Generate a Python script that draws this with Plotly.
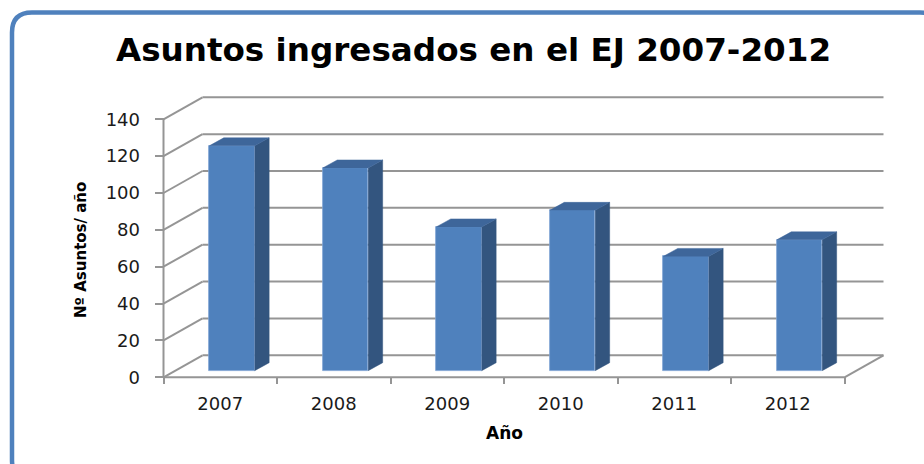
import plotly.graph_objects as go

# ---------------- data ----------------
years = ["2007", "2008", "2009", "2010", "2011", "2012"]
asuntos = [122, 110, 78, 87, 62, 71]
y_ticks = [0, 20, 40, 60, 80, 100, 120, 140]

title_text = "Asuntos ingresados en el EJ 2007-2012"
y_title = "Nº Asuntos/ año"
x_title = "Año"

# ---------------- geometry (pixels -> axis units) ----------------
FIG_W, FIG_H = 924, 464
L, R, T, B = 155, 900, 85, 384          # plot-area box in pixels
W_PX = 113.5                            # px per category
V_PX = 1.843                            # px per value unit
AX_PX, ZERO_PX = 163.5, 377.3           # front axis position / zero line
xmin = -0.5 - (AX_PX - L) / W_PX
xmax = xmin + (R - L) / W_PX
ymin = -(B - ZERO_PX) / V_PX
ymax = ymin + (B - T) / V_PX

DX, DY = 39 / W_PX, 22 / V_PX           # depth of the 3-D box
F = 0.3                                 # depth of the bar front face
BW = 0.40                               # bar width (category units)
BDX, BDY = 14.5 / W_PX, 8 / V_PX        # bar depth

FRONT = "#4F81BD"
SIDE = "#33557F"
TOP = "#3E669A"
GRID = "#959595"

n = len(years)
idx = list(range(n))
x_left, x_right = -0.5, n - 0.5
top_tick = max(y_ticks)

fig = go.Figure()

# ---- walls / gridlines as shapes below traces ----
shapes = []
def seg(x0, y0, x1, y1, w=2, c=GRID):
    shapes.append(dict(type="line", xref="x", yref="y", x0=x0, y0=y0, x1=x1, y1=y1,
                       line=dict(color=c, width=w), layer="below"))

for t in y_ticks:
    seg(x_left + DX, t + DY, x_right + DX, t + DY)   # back wall
    seg(x_left, t, x_left + DX, t + DY)              # side wall
seg(x_left, 0, x_right, 0)                           # floor front edge
seg(x_right, 0, x_right + DX, DY)                    # floor right edge
seg(x_left, 0, x_left, top_tick)                     # value axis line

# ---- bars (front faces) ----
base = F * DY
xc = [i + F * DX for i in idx]
fig.add_trace(go.Bar(x=xc, y=asuntos, base=base, width=BW,
                     marker=dict(color=FRONT, line=dict(color="#7FA3D3", width=0.8)),
                     hoverinfo="skip", showlegend=False))

# ---- side & top faces ----
sx, sy, tx, ty = [], [], [], []
for c, v in zip(xc, asuntos):
    xr = c + BW / 2
    xl = c - BW / 2
    top = base + v
    sx += [xr, xr + BDX, xr + BDX, xr, None]
    sy += [base, base + BDY, top + BDY, top, None]
    tx += [xl, xl + BDX, xr + BDX, xr, None]
    ty += [top, top + BDY, top + BDY, top, None]

fig.add_trace(go.Scatter(x=sx, y=sy, mode="lines", fill="toself", fillcolor=SIDE,
                         line=dict(color=SIDE, width=0.5), hoverinfo="skip", showlegend=False))
fig.add_trace(go.Scatter(x=tx, y=ty, mode="lines", fill="toself", fillcolor=TOP,
                         line=dict(color=TOP, width=0.5), hoverinfo="skip", showlegend=False))

# ---- frame (rounded rectangle) in paper units ----
def px2paper(px, py):
    return (px - L) / (R - L), (B - py) / (B - T)

fx0, fy0, fx1, fy1, rad = 12, 12.5, 940, 480, 20
def P(px, py):
    x, y = px2paper(px, py)
    return f"{x:.5f},{y:.5f}"
path = (f"M {P(fx0, fy0 + rad)} Q {P(fx0, fy0)} {P(fx0 + rad, fy0)} "
        f"L {P(fx1 - rad, fy0)} Q {P(fx1, fy0)} {P(fx1, fy0 + rad)} "
        f"L {P(fx1, fy1 - rad)} Q {P(fx1, fy1)} {P(fx1 - rad, fy1)} "
        f"L {P(fx0 + rad, fy1)} Q {P(fx0, fy1)} {P(fx0, fy1 - rad)} Z")
shapes.append(dict(type="path", xref="paper", yref="paper", path=path,
                   line=dict(color="#4F81BD", width=4.5), layer="below"))

ax_x, ax_y = px2paper(81, 250)
ann_x, ann_y = px2paper(504, 433)

fig.update_layout(
    width=FIG_W, height=FIG_H,
    margin=dict(l=L, r=FIG_W - R, t=T, b=FIG_H - B, pad=0),
    paper_bgcolor="white", plot_bgcolor="rgba(0,0,0,0)",
    shapes=shapes,
    title=dict(text=title_text, x=473.5 / FIG_W, xanchor="center",
               y=1 - 50 / FIG_H, yanchor="middle",
               font=dict(family="DejaVu Sans", size=32.6, color="#000000", weight="bold")),
    xaxis=dict(range=[xmin, xmax], tickvals=idx, ticktext=years, ticks="",
               showgrid=False, zeroline=False, showline=False,
               minor=dict(tickvals=[i - 0.5 for i in range(n + 1)], ticks="inside",
                          ticklen=7, tickwidth=2, tickcolor=GRID, showgrid=False),
               tickfont=dict(family="DejaVu Sans", size=18, color="#1a1a1a"),
               ticklabelstandoff=7, fixedrange=True),
    yaxis=dict(range=[ymin, ymax], tickvals=y_ticks, ticks="inside", ticklen=9,
               tickwidth=2, tickcolor=GRID, showgrid=False, zeroline=False, showline=False,
               tickfont=dict(family="DejaVu Sans", size=18, color="#1a1a1a"),
               ticklabelstandoff=14, fixedrange=True),
    annotations=[
        dict(text=y_title, xref="paper", yref="paper", x=ax_x, y=ax_y, textangle=-90,
             showarrow=False, xanchor="center", yanchor="middle",
             font=dict(family="DejaVu Sans", size=15, color="#000000", weight="bold")),
        dict(text=x_title, xref="paper", yref="paper", x=ann_x, y=ann_y,
             showarrow=False, xanchor="center", yanchor="middle",
             font=dict(family="DejaVu Sans", size=17, color="#000000", weight="bold")),
    ],
    bargap=0,
)

fig.write_html("out.html", config={"displayModeBar": False},
               post_script="document.body.style.margin='0';")
